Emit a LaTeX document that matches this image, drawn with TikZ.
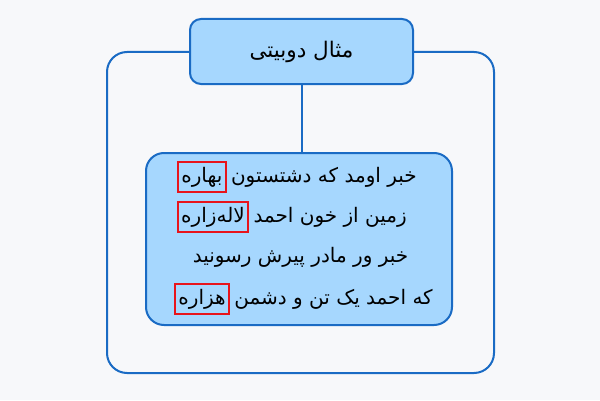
\documentclass[tikz,border=0pt]{standalone}
\usepackage{fontspec}
\TeXXeTstate=1
\newfontfamily\arabicfont[Script=Arabic]{DejaVu Sans}
\definecolor{bgcol}{HTML}{F7F8FA}
\definecolor{edgecol}{HTML}{1A6BC4}
\definecolor{fillcol}{HTML}{A6D7FE}
\definecolor{hlcol}{HTML}{E8141B}
\tikzset{
  framebox/.style={draw=edgecol, line width=2pt, rounded corners=20pt, minimum width=387pt, minimum height=321pt, inner sep=0pt},
  titlebox/.style={draw=edgecol, fill=fillcol, line width=2pt, rounded corners=11pt, minimum width=223pt, minimum height=65pt, font=\arabicfont\fontsize{21.5}{24}\selectfont},
  versebox/.style={draw=edgecol, fill=fillcol, line width=2pt, rounded corners=18pt, minimum width=306pt, minimum height=172pt},
  textline/.style={inner sep=0pt, font=\arabicfont\fontsize{20}{24}\selectfont},
  hlbox/.style={draw=hlcol, line width=2pt, inner xsep=3.5pt, inner ysep=5pt, font=\arabicfont\fontsize{20}{24}\selectfont},
  conn/.style={draw=edgecol, line width=2pt}
}
\begin{document}
\begin{tikzpicture}[x=1pt,y=1pt]
\fill[bgcol] (0,0) rectangle (600,400);
\useasboundingbox (0,0) rectangle (600,400);
\node[framebox] (frame) at (300.5,187.5) {};
\node[titlebox] (title) at (301.5,348.5) {\beginR مثال دوبیتی\endR};
\node[versebox] (verse) at (299,161) {};
% line 1
\node[textline, anchor=base east] (l1t) at (417,218) {\beginR خبر اومد که دشتستون\endR};
\node[hlbox, anchor=base east] (l1w) at ([xshift=-4pt]l1t.base west) {\beginR بهاره\endR};
% line 2
\node[textline, anchor=base east] (l2t) at (407,178) {\beginR زمین از خون احمد\endR};
\node[hlbox, anchor=base east] (l2w) at ([xshift=-4pt]l2t.base west) {\beginR لاله^^^^200cزاره\endR};
% line 3
\node[textline, anchor=base] (l3t) at (300.5,138) {\beginR خبر ور مادر پیرش رسونید\endR};
% line 4
\node[textline, anchor=base east] (l4t) at (433,96) {\beginR که احمد یک تن و دشمن\endR};
\node[hlbox, anchor=base east] (l4w) at ([xshift=-4pt]l4t.base west) {\beginR هزاره\endR};
\draw[conn] (title.south) -- (title.south |- verse.north);
\end{tikzpicture}
\end{document}
